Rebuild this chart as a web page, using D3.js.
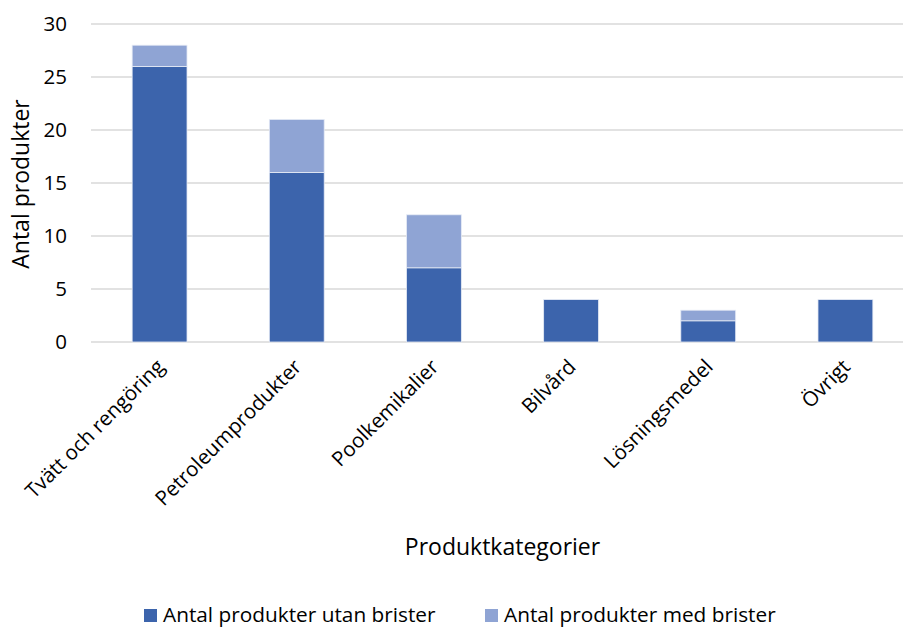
<!DOCTYPE html>
<html>
<head>
<meta charset="utf-8">
<script src="https://cdn.jsdelivr.net/npm/d3@7"></script>
<style>
  html, body { margin: 0; padding: 0; background: #fff; }
  svg { display: block; font-family: "Open Sans", "Noto Sans", sans-serif; }
</style>
</head>
<body>
<svg id="chart" width="903" height="627"></svg>
<script>
// Product categories and counts per category
const categories = ["Tvätt och rengöring", "Petroleumprodukter", "Poolkemikalier", "Bilvård", "Lösningsmedel", "Övrigt"];
const utanBrister = [26, 16, 7, 4, 2, 4];
const medBrister = [2, 5, 5, 0, 1, 0];
const seriesNames = ["Antal produkter utan brister", "Antal produkter med brister"];
const seriesColors = ["#3c64ac", "#8fa4d4"];
const yTicks = [0, 5, 10, 15, 20, 25, 30];

const svg = d3.select("#chart");
const W = 903, H = 627;
const plot = { left: 91, right: 914, top: 24, bottom: 342 };
const FONT = "'Open Sans', sans-serif";

const rows = categories.map((c, i) => ({ cat: c, utan: utanBrister[i], med: medBrister[i] }));
const stacked = d3.stack().keys(["utan", "med"])(rows);

const x = d3.scaleBand().domain(categories).range([plot.left, plot.right]).paddingInner(0.6).paddingOuter(0.3);
const y = d3.scaleLinear().domain([0, 30]).range([plot.bottom, plot.top]);

// horizontal gridlines
svg.append("g")
  .selectAll("line").data(yTicks).join("line")
  .attr("x1", plot.left).attr("x2", W)
  .attr("y1", d => y(d)).attr("y2", d => y(d))
  .attr("stroke", "#d9d9d9").attr("stroke-width", 1.3);

// y axis tick labels
const yAxis = svg.append("g")
  .attr("transform", `translate(${plot.left},0)`)
  .call(d3.axisLeft(y).tickValues(yTicks).tickSize(0).tickPadding(24));
yAxis.select(".domain").remove();
yAxis.selectAll("text").attr("font-size", 20.5).attr("fill", "#000").attr("font-family", FONT);

// stacked bars
svg.append("g").selectAll("g").data(stacked).join("g")
  .attr("fill", (d, i) => seriesColors[i])
  .selectAll("rect").data(d => d.filter(p => p[1] - p[0] > 0)).join("rect")
  .attr("x", d => x(d.data.cat))
  .attr("width", x.bandwidth())
  .attr("y", d => y(d[1]))
  .attr("height", d => y(d[0]) - y(d[1]))
  .attr("stroke", "#e6ebf5").attr("stroke-width", 0.8);

// category labels, rotated -45°
const xAxis = svg.append("g")
  .attr("transform", `translate(0,${plot.bottom})`)
  .call(d3.axisBottom(x).tickSize(0).tickPadding(0));
xAxis.select(".domain").remove();
xAxis.selectAll("text")
  .attr("font-size", 20.5).attr("fill", "#000").attr("font-family", FONT)
  .attr("text-anchor", "end")
  .attr("y", 0).attr("dy", 0)
  .attr("transform", "translate(6,26) rotate(-45)");

// axis titles
svg.append("text")
  .attr("transform", `translate(29,184) rotate(-90)`)
  .attr("text-anchor", "middle").attr("font-size", 23).attr("fill", "#000")
  .text("Antal produkter");

svg.append("text")
  .attr("x", 502.5).attr("y", 555)
  .attr("text-anchor", "middle").attr("font-size", 23).attr("fill", "#000")
  .text("Produktkategorier");

// legend
const legendX = [144, 485];
const legend = svg.append("g").selectAll("g").data(seriesNames).join("g")
  .attr("transform", (d, i) => `translate(${legendX[i]},609)`);
legend.append("rect").attr("width", 13).attr("height", 13).attr("fill", (d, i) => seriesColors[i]);
legend.append("text").attr("x", 19).attr("y", 13).attr("font-size", 20.8).attr("fill", "#000").text(d => d);
</script>
</body>
</html>
